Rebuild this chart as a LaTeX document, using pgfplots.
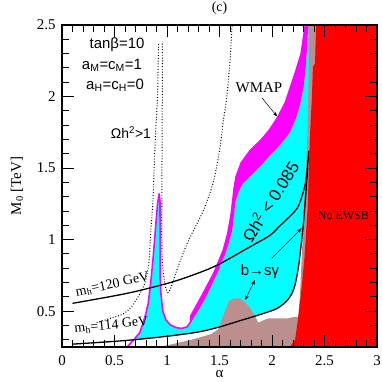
\documentclass[border=0pt]{standalone}
\usepackage{fontspec}
\setmainfont{Liberation Serif}
\newfontfamily\sans{Liberation Sans}
\usepackage{pgfplots}
\pgfplotsset{compat=1.18}
\usetikzlibrary{arrows.meta}
\definecolor{mybrown}{RGB}{188,143,143}
\definecolor{mycyan}{RGB}{0,255,255}
\definecolor{mymag}{RGB}{255,0,255}
\definecolor{myred}{RGB}{255,0,0}
\begin{document}
\begin{tikzpicture}
\begin{axis}[
  at={(0,0)}, anchor=south west,
  scale only axis, width=315bp, height=322bp,
  xmin=0, xmax=3, ymin=0.25, ymax=2.5,
  xtick={0,0.5,1,1.5,2,2.5,3},
  ytick={0.5,1,1.5,2,2.5},
  minor xtick={0.1,0.2,0.3,0.4,0.6,0.7,0.8,0.9,1.1,1.2,1.3,1.4,1.6,1.7,1.8,1.9,2.1,2.2,2.3,2.4,2.6,2.7,2.8,2.9},
  minor ytick={0.3,0.4,0.6,0.7,0.8,0.9,1.1,1.2,1.3,1.4,1.6,1.7,1.8,1.9,2.1,2.2,2.3,2.4},
  tick align=inside, major tick length=12bp, minor tick length=7bp,
  every tick/.style={black, line width=1pt},
  axis line style={line width=1.2pt},
  axis on top,
  /pgf/number format/assume math mode=true,
  ticklabel style={font=\fontsize{15}{15}\selectfont},
  xticklabel style={anchor=center, yshift=-14bp},
  yticklabel style={anchor=east, xshift=-3bp},
  xlabel={α}, ylabel={M\textsubscript{0} [TeV]},
  label style={font=\fontsize{15}{15}\selectfont},
  xlabel style={at={(axis description cs:0.5,-0.084)}, anchor=center},
  ylabel style={at={(axis description cs:-0.143,0.5)}, anchor=center},
  title={(c)}, title style={font=\fontsize{14}{14}\selectfont, at={(axis description cs:0.5,1.034)}, anchor=center},
]
% cyan region
\addplot[fill=mycyan, draw=none] coordinates {
(0.68,0.297) (0.74,0.35) (0.79,0.46) (0.82,0.55) (0.845,0.70) (0.865,0.85) (0.88,0.98) (0.895,1.12) (0.91,1.25) (0.925,1.32) (0.933,1.27) (0.935,1.0) (0.935,0.75) (0.94,0.64) (0.96,0.50) (0.99,0.44) (1.03,0.405) (1.09,0.385) (1.14,0.38) (1.19,0.39) (1.22,0.42) (1.25,0.46) (1.31,0.53) (1.37,0.61) (1.44,0.72) (1.50,0.81) (1.55,0.89) (1.59,0.98) (1.62,1.06) (1.64,1.18) (1.65,1.26) (1.68,1.33) (1.72,1.39) (1.79,1.44) (1.90,1.52) (1.97,1.58) (2.05,1.64) (2.12,1.70) (2.17,1.75) (2.23,1.85) (2.27,1.95) (2.30,2.06) (2.32,2.19) (2.335,2.35) (2.345,2.5) (2.40,2.5) (2.40,1.5) (2.34,1.50) (2.32,1.30) (2.30,1.12) (2.28,0.98) (2.25,0.80) (2.21,0.66) (2.15,0.58) (2.05,0.52) (1.9,0.48) (1.7,0.435) (1.5,0.39) (1.3,0.355) (1.0,0.325) (0.68,0.297)
} -- cycle;
% magenta band
\addplot[fill=mymag, draw=none] coordinates {
(1.22,0.47) (1.34,0.63) (1.44,0.77) (1.53,0.93) (1.57,1.04) (1.60,1.16) (1.62,1.28) (1.63,1.35) (1.65,1.44) (1.70,1.54) (1.79,1.63) (1.89,1.70) (1.97,1.77) (2.05,1.86) (2.12,1.96) (2.17,2.07) (2.22,2.18) (2.27,2.30) (2.31,2.5)
(2.345,2.5) (2.335,2.35) (2.32,2.19) (2.30,2.06) (2.27,1.95) (2.23,1.85) (2.17,1.75) (2.12,1.70) (2.05,1.64) (1.97,1.58) (1.90,1.52) (1.79,1.44) (1.72,1.39) (1.68,1.33) (1.65,1.26) (1.64,1.18) (1.62,1.06) (1.59,0.98) (1.55,0.89) (1.50,0.81) (1.44,0.72) (1.37,0.61) (1.31,0.53) (1.25,0.46) (1.22,0.42)
} -- cycle;
% magenta thin boundary
\addplot[mymag, line width=1.6pt, line join=round] coordinates {
(0.62,0.25) (0.68,0.297) (0.74,0.35) (0.79,0.46) (0.82,0.55) (0.845,0.70) (0.865,0.85) (0.88,0.98) (0.895,1.12) (0.91,1.25) (0.925,1.32) (0.933,1.27) (0.935,1.0) (0.935,0.75) (0.94,0.64) (0.96,0.50) (0.99,0.44) (1.03,0.405) (1.09,0.385) (1.14,0.38) (1.19,0.39) (1.22,0.42) (1.25,0.46) (1.31,0.53) (1.37,0.61) (1.44,0.72) (1.50,0.81)
};
% gray / brown region
\addplot[fill=mybrown, draw=none] coordinates {
(0.93,0.25) (1.23,0.30) (1.42,0.34) (1.49,0.375) (1.53,0.46) (1.59,0.57) (1.64,0.59) (1.69,0.59) (1.75,0.56) (1.82,0.49) (1.87,0.42) (1.96,0.45) (2.15,0.45) (2.21,0.46) (2.25,0.46) (2.265,0.6) (2.275,0.75) (2.285,0.9) (2.30,1.16) (2.32,1.45) (2.335,1.70) (2.345,2.0) (2.35,2.2) (2.345,2.5) (2.45,2.5) (2.45,0.25)
} -- cycle;
% red region
\addplot[fill=myred, draw=none] coordinates {
(2.17,0.25) (2.22,0.30) (2.25,0.46) (2.28,0.65) (2.31,0.88) (2.34,1.23) (2.36,1.70) (2.38,2.0) (2.39,2.21) (2.41,2.23) (2.42,2.5) (3,2.5) (3,0.25)
} -- cycle;
% m_h lines
\addplot[black, line width=1.3pt, smooth] coordinates {
(0.1,0.555) (0.62,0.625) (1.03,0.70) (1.31,0.77) (1.50,0.83) (1.79,0.95) (1.98,1.03) (2.08,1.10) (2.18,1.17) (2.24,1.22) (2.28,1.29) (2.32,1.40) (2.34,1.52) (2.35,1.62)
};
\addplot[black, line width=1.3pt, smooth] coordinates {
(0.1,0.27) (0.6,0.295) (1.0,0.325) (1.3,0.355) (1.5,0.39) (1.7,0.435) (1.9,0.48) (2.05,0.52) (2.15,0.58) (2.21,0.66) (2.25,0.80) (2.28,0.98) (2.30,1.12) (2.32,1.30) (2.34,1.50)
};
% dotted Omega h^2 > 1 boundaries
\addplot[black, line width=1pt, dash pattern=on 0.9bp off 1.9bp, smooth] coordinates {
(0.33,0.42) (0.46,0.45) (0.58,0.48) (0.66,0.53) (0.74,0.62) (0.79,0.70) (0.82,0.80) (0.835,0.90) (0.845,1.05) (0.86,1.20) (0.87,1.33) (0.88,1.55) (0.895,1.80) (0.91,2.0) (0.915,2.2) (0.92,2.37)
};
\addplot[black, line width=1pt, dash pattern=on 0.9bp off 1.9bp, smooth] coordinates {
(0.955,2.37) (0.955,2.0) (0.952,1.5) (0.95,1.2) (0.95,1.0) (0.955,0.85) (0.97,0.74) (0.99,0.66) (1.01,0.63) (1.04,0.67) (1.10,0.80) (1.19,0.97) (1.27,1.09) (1.35,1.21) (1.44,1.40) (1.50,1.62) (1.54,1.85) (1.57,2.0) (1.60,2.25) (1.62,2.5)
};
% annotations
\node[font=\sans\fontsize{15}{15}\selectfont] at (axis cs:0.524,2.36) {tanβ=10};
\node[font=\sans\fontsize{15}{15}\selectfont] at (axis cs:0.476,2.22) {a\textsubscript{M}=c\textsubscript{M}=1};
\node[font=\sans\fontsize{15}{15}\selectfont] at (axis cs:0.505,2.08) {a\textsubscript{H}=c\textsubscript{H}=0};
\node[font=\sans\fontsize{14}{14}\selectfont] at (axis cs:0.657,1.75) {Ωh\textsuperscript{2}>1};
\node[font=\fontsize{15}{15}\selectfont] at (axis cs:1.876,2.06) {WMAP};
\draw[-{Stealth[length=5bp,width=3.5bp]}, line width=0.5pt] (axis cs:1.905,1.99) -- (axis cs:2.05,1.86);
\node[font=\sans\fontsize{17}{17}\selectfont, rotate=58, inner sep=0pt] at (axis cs:1.98,1.27) {Ωh\textsuperscript{2} < 0.085};
\node[font=\sans\fontsize{15}{15}\selectfont, inner sep=1pt] at (axis cs:1.886,0.78) {b→sγ};
\draw[-{Stealth[length=5bp,width=3.5bp]}, line width=0.5pt] (axis cs:1.997,0.87) -- (axis cs:2.283,1.08);
\draw[{Stealth[length=5bp,width=3.5bp]}-{Stealth[length=5bp,width=3.5bp]}, line width=0.5pt] (axis cs:1.838,0.718) -- (axis cs:1.743,0.578);
\node[font=\fontsize{12}{12}\selectfont] at (axis cs:2.68,1.17) {No EWSB};
\node[font=\fontsize{14}{14}\selectfont, rotate=12] at (axis cs:0.48,0.685) {m\textsubscript{h}=120 GeV};
\node[font=\fontsize{14}{14}\selectfont, rotate=6] at (axis cs:0.47,0.40) {m\textsubscript{h}=114 GeV};
\end{axis}
\pgfresetboundingbox
\path (-62bp,-35bp) rectangle (320bp,347bp);
\end{tikzpicture}
\end{document}
